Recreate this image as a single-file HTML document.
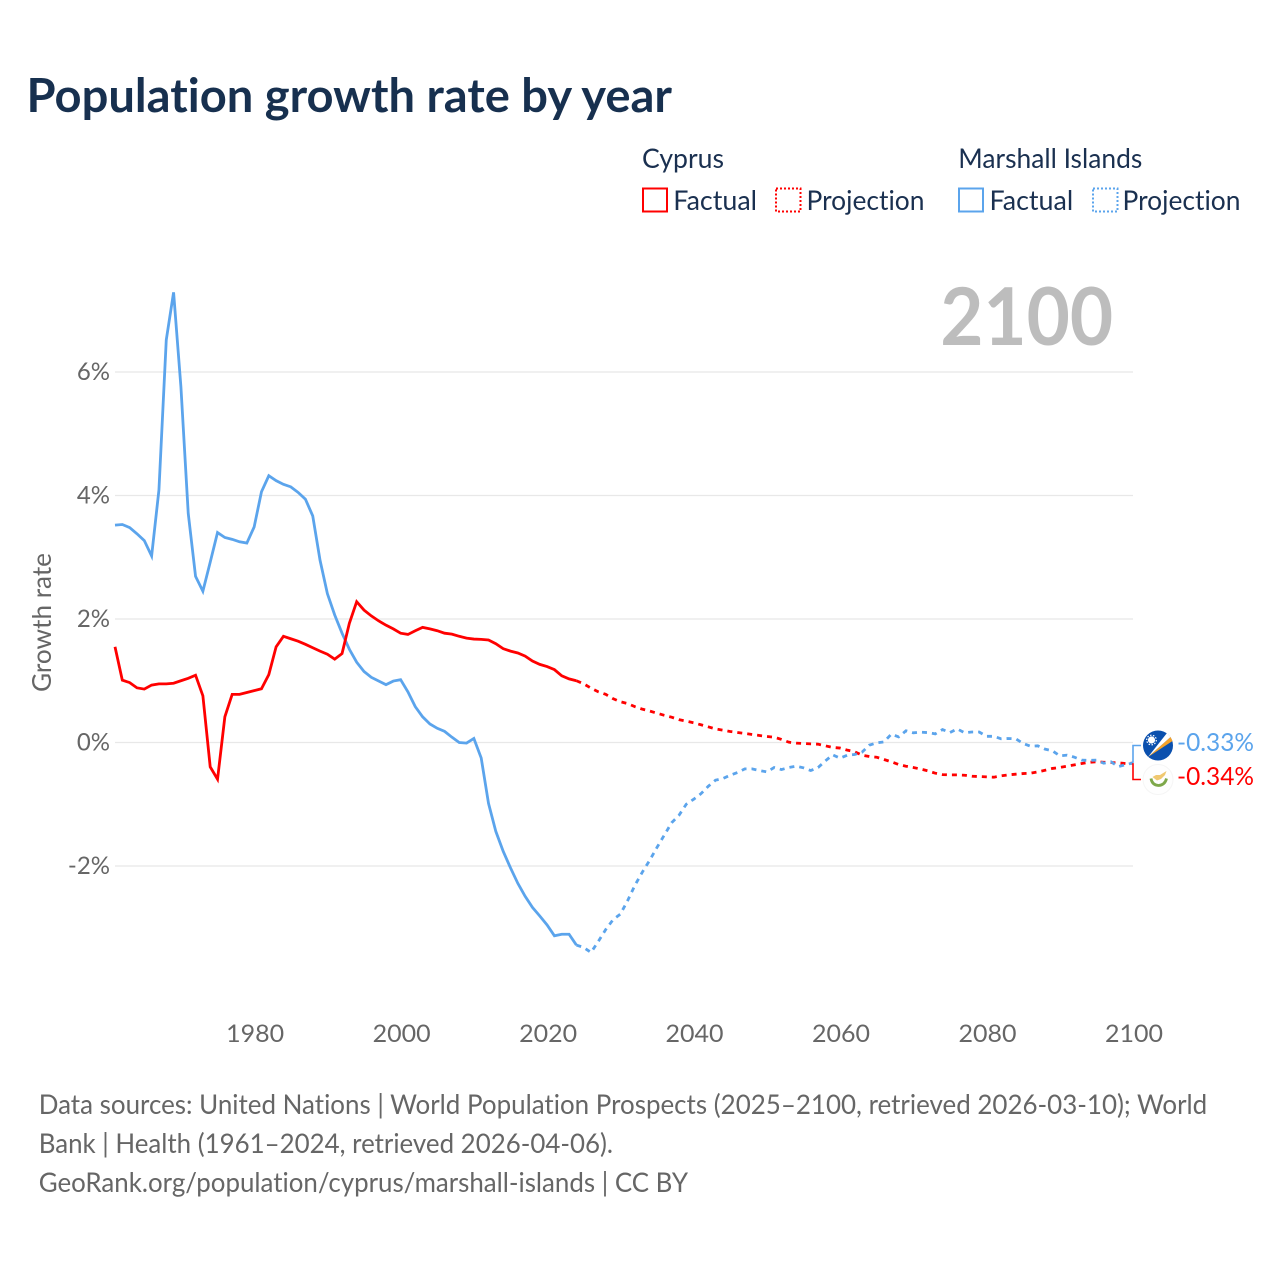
<!DOCTYPE html>
<html lang="en">
<head>
<meta charset="utf-8">
<title>Population growth rate by year</title>
<style>
  html, body { margin: 0; padding: 0; background: #ffffff; }
  #chart { display: block; width: 1280px; height: 1280px; }
  text { font-family: "Lato", "Carlito", "Liberation Sans", sans-serif; font-variant-ligatures: none; }
  .legend-text { font-size: 27px; fill: #1a3050; }
  .tick-text { font-size: 24px; fill: #666666; }
  .foot-text { font-size: 27px; fill: #666666; }
</style>
</head>
<body>
<svg id="chart" xmlns="http://www.w3.org/2000/svg" width="1280" height="1280" viewBox="0 0 1280 1280">
  <rect x="0" y="0" width="1280" height="1280" fill="#ffffff"/>
  <text x="26.5" y="112" font-size="47" font-weight="700" fill="#17304f" textLength="645.5" lengthAdjust="spacingAndGlyphs">Population growth rate by year</text>

  <g>
    <text class="legend-text" x="642" y="168" textLength="82" lengthAdjust="spacingAndGlyphs">Cyprus</text>
    <rect x="643" y="188.5" width="24" height="23" fill="none" stroke="#ff0000" stroke-width="2"/>
    <text class="legend-text" x="673.3" y="210" textLength="83.7" lengthAdjust="spacingAndGlyphs">Factual</text>
    <rect x="776" y="188.5" width="24.500" height="23" fill="none" stroke="#ff0000" stroke-width="2" stroke-dasharray="2 2"/>
    <text class="legend-text" x="806.5" y="210" textLength="118" lengthAdjust="spacingAndGlyphs">Projection</text>
    <text class="legend-text" x="958.3" y="168" textLength="184" lengthAdjust="spacingAndGlyphs">Marshall Islands</text>
    <rect x="959" y="188.5" width="24" height="23" fill="none" stroke="#5ba4ec" stroke-width="2"/>
    <text class="legend-text" x="989.5" y="210" textLength="83.7" lengthAdjust="spacingAndGlyphs">Factual</text>
    <rect x="1093" y="188.5" width="24.500" height="23" fill="none" stroke="#5ba4ec" stroke-width="2" stroke-dasharray="2 2"/>
    <text class="legend-text" x="1122.5" y="210" textLength="118" lengthAdjust="spacingAndGlyphs">Projection</text>
  </g>

  <text x="940.2" y="345" font-size="80" font-weight="700" fill="#bdbdbd" textLength="173" lengthAdjust="spacingAndGlyphs">2100</text>
  <text class="tick-text" style="font-size:26px" transform="translate(51 692) rotate(-90)" textLength="139" lengthAdjust="spacingAndGlyphs">Growth rate</text>

  <g id="grid"></g>
  <g id="y-ticks"></g>
  <g id="x-ticks"></g>
  <g id="series"></g>
  <g id="connectors"></g>

  <g>
    <circle cx="1158" cy="745.500" r="15" fill="#0b50ae"/>
    <polygon points="1148,757 1170.500,737 1172.500,741" fill="#f5a229"/>
    <polygon points="1148,757 1167,733 1170.500,737" fill="#ffffff"/>
    <circle cx="1151.500" cy="740" r="3.600" fill="#ffffff"/>
    <circle cx="1151.500" cy="740" r="4.800" fill="none" stroke="#ffffff" stroke-width="1.200" stroke-dasharray="1.500 1.500"/>
  </g>
  <g>
    <circle cx="1158" cy="779.500" r="15" fill="#fefefe" stroke="#f5f5f5" stroke-width="1"/>
    <polygon points="1152.500,777 1156,775 1160,775 1166.500,771 1165,775 1161,779 1157,780.500" fill="#f0c870"/>
    <path d="M1151 778.500 Q1152 785 1158.500 785.500 Q1165 785 1166.500 778.500" fill="none" stroke="#7ea84a" stroke-width="2.800"/>
  </g>
  <text x="1177" y="751" font-size="25" fill="#5ba4ec" textLength="77" lengthAdjust="spacingAndGlyphs">-0.33%</text>
  <text x="1177" y="785" font-size="25" fill="#ff0000" textLength="77" lengthAdjust="spacingAndGlyphs">-0.34%</text>

  <g>
    <text class="foot-text" x="38.7" y="1114" textLength="1168.5" lengthAdjust="spacingAndGlyphs">Data sources: United Nations | World Population Prospects (2025–2100, retrieved 2026-03-10); World</text>
    <text class="foot-text" x="38.7" y="1153" textLength="574.3" lengthAdjust="spacingAndGlyphs">Bank | Health (1961–2024, retrieved 2026-04-06).</text>
    <text class="foot-text" x="38.7" y="1192" textLength="649.3" lengthAdjust="spacingAndGlyphs">GeoRank.org/population/cyprus/marshall-islands | CC BY</text>
  </g>
</svg>

<script>
const factualStartYear = 1961;
const projectionStartYear = 2024;
const xTickYears = [1980, 2000, 2020, 2040, 2060, 2080, 2100];
const yTickValues = [6, 4, 2, 0, -2];
const yTickLabels = ["6%", "4%", "2%", "0%", "-2%"];

const cyprusFactual = [
  1.55, 1.01, 0.97, 0.885, 0.865, 0.93, 0.95, 0.95, 0.96,
  1.0, 1.04, 1.09, 0.757, -0.395, -0.595, 0.416, 0.78, 0.78, 0.81,
  0.84, 0.87, 1.10, 1.55, 1.72, 1.68, 1.64, 1.59, 1.535, 1.48,
  1.43, 1.35, 1.44, 1.93, 2.28, 2.145, 2.05, 1.97, 1.90, 1.84,
  1.77, 1.75, 1.81, 1.865, 1.84, 1.81, 1.77, 1.755, 1.72, 1.69,
  1.675, 1.67, 1.66, 1.60, 1.52, 1.48, 1.45, 1.40, 1.32, 1.265,
  1.23, 1.18, 1.08, 1.03, 1.0
];
const cyprusProjection = [
  1.0, 0.95, 0.88, 0.82, 0.78, 0.71,
  0.66, 0.63, 0.58, 0.54, 0.51, 0.475, 0.44, 0.41, 0.37, 0.345,
  0.32, 0.287, 0.254, 0.22, 0.20, 0.178, 0.162, 0.146, 0.13, 0.114,
  0.097, 0.086, 0.05, 0.005, -0.01, -0.016, -0.022, -0.027, -0.054, -0.08,
  -0.09, -0.124, -0.15, -0.205, -0.227, -0.238, -0.275, -0.313, -0.357, -0.384,
  -0.405, -0.43, -0.46, -0.497, -0.52, -0.524, -0.524, -0.53, -0.546, -0.551,
  -0.557, -0.562, -0.54, -0.524, -0.513, -0.503, -0.497, -0.476, -0.449, -0.42,
  -0.405, -0.384, -0.362, -0.34, -0.32, -0.313, -0.32, -0.324, -0.33, -0.34,
  -0.335
];
const marshallFactual = [
  3.52, 3.53, 3.48, 3.38, 3.27, 3.02, 4.09, 6.52, 7.29,
  5.76, 3.71, 2.69, 2.45, 2.92, 3.40, 3.32, 3.29, 3.25, 3.23,
  3.49, 4.06, 4.32, 4.24, 4.18, 4.14, 4.05, 3.94, 3.67, 2.95,
  2.41, 2.065, 1.77, 1.51, 1.30, 1.15, 1.055, 0.995, 0.937, 0.995,
  1.017, 0.82, 0.58, 0.416, 0.30, 0.23, 0.18, 0.086, 0.0, -0.01,
  0.065, -0.25, -0.985, -1.44, -1.76, -2.03, -2.28, -2.49, -2.67, -2.81,
  -2.955, -3.13, -3.105, -3.105, -3.28
];
const marshallProjection = [
  -3.28, -3.32, -3.40, -3.22, -3.03, -2.87,
  -2.78, -2.56, -2.31, -2.10, -1.91, -1.70, -1.50, -1.30, -1.18, -1.0,
  -0.92, -0.83, -0.71, -0.61, -0.584, -0.53, -0.486, -0.427, -0.427, -0.454,
  -0.476, -0.405, -0.438, -0.405, -0.384, -0.41, -0.454, -0.405, -0.297, -0.2,
  -0.254, -0.205, -0.195, -0.157, -0.043, -0.005, 0.01, 0.135, 0.09, 0.19,
  0.157, 0.168, 0.16, 0.14, 0.21, 0.16, 0.22, 0.157, 0.17, 0.17,
  0.10, 0.10, 0.06, 0.065, 0.06, -0.016, -0.06, -0.054, -0.108, -0.135,
  -0.216, -0.205, -0.238, -0.286, -0.29, -0.286, -0.335, -0.313, -0.39, -0.36,
  -0.33
];

const SVG_NS = "http://www.w3.org/2000/svg";
const plotLeft = 115;
const plotRight = 1133;
const axisMinYear = 1961;
const axisMaxYear = 2100;
const zeroY = 742.5;
const pxPerPercent = 61.75;

function xScale(year) {
  return plotLeft + (year - axisMinYear) * (plotRight - plotLeft) / (axisMaxYear - axisMinYear);
}
function yScale(value) {
  return zeroY - value * pxPerPercent;
}
function linePath(startYear, values) {
  return values.map(function (v, i) {
    return (i === 0 ? "M" : "L") + xScale(startYear + i).toFixed(2) + " " + yScale(v).toFixed(2);
  }).join(" ");
}

const gridGroup = document.getElementById("grid");
const yTickGroup = document.getElementById("y-ticks");
yTickValues.forEach(function (v, i) {
  const gridLine = document.createElementNS(SVG_NS, "line");
  
  
  gridLine.setAttribute("x1", plotLeft);
  gridLine.setAttribute("x2", plotRight);
  gridLine.setAttribute("y1", yScale(v));
  gridLine.setAttribute("y2", yScale(v));
  gridLine.setAttribute("stroke", "#e8e8e8");
  gridLine.setAttribute("stroke-width", "1.3");
  gridGroup.appendChild(gridLine);

  const yLabel = document.createElementNS(SVG_NS, "text");
  
  
  yLabel.setAttribute("class", "tick-text");
  yLabel.setAttribute("x", 110);
  yLabel.setAttribute("y", yScale(v) + 8);
  yLabel.setAttribute("text-anchor", "end");
  yLabel.textContent = yTickLabels[i];
  yTickGroup.appendChild(yLabel);
});

const xTickGroup = document.getElementById("x-ticks");
xTickYears.forEach(function (year) {
  const xLabel = document.createElementNS(SVG_NS, "text");
  
  
  xLabel.setAttribute("class", "tick-text");
  xLabel.setAttribute("x", xScale(year) + 1);
  xLabel.setAttribute("y", 1042);
  xLabel.setAttribute("text-anchor", "middle");
  xLabel.setAttribute("textLength", "58");
  xLabel.setAttribute("lengthAdjust", "spacingAndGlyphs");
  xLabel.textContent = String(year);
  xTickGroup.appendChild(xLabel);
});

const seriesGroup = document.getElementById("series");
const marshallFactualLine = document.createElementNS(SVG_NS, "path");


marshallFactualLine.setAttribute("d", linePath(factualStartYear, marshallFactual));
marshallFactualLine.setAttribute("fill", "none");
marshallFactualLine.setAttribute("stroke", "#5ba4ec");
marshallFactualLine.setAttribute("stroke-width", "2.8");
seriesGroup.appendChild(marshallFactualLine);

const cyprusFactualLine = document.createElementNS(SVG_NS, "path");


cyprusFactualLine.setAttribute("d", linePath(factualStartYear, cyprusFactual));
cyprusFactualLine.setAttribute("fill", "none");
cyprusFactualLine.setAttribute("stroke", "#ff0000");
cyprusFactualLine.setAttribute("stroke-width", "2.8");
seriesGroup.appendChild(cyprusFactualLine);

const cyprusProjectionLine = document.createElementNS(SVG_NS, "path");


cyprusProjectionLine.setAttribute("d", linePath(projectionStartYear, cyprusProjection));
cyprusProjectionLine.setAttribute("fill", "none");
cyprusProjectionLine.setAttribute("stroke", "#ff0000");
cyprusProjectionLine.setAttribute("stroke-width", "2.8");
cyprusProjectionLine.setAttribute("stroke-dasharray", "5 5");
seriesGroup.appendChild(cyprusProjectionLine);

const marshallProjectionLine = document.createElementNS(SVG_NS, "path");


marshallProjectionLine.setAttribute("d", linePath(projectionStartYear, marshallProjection));
marshallProjectionLine.setAttribute("fill", "none");
marshallProjectionLine.setAttribute("stroke", "#5ba4ec");
marshallProjectionLine.setAttribute("stroke-width", "2.8");
marshallProjectionLine.setAttribute("stroke-dasharray", "5 5");
seriesGroup.appendChild(marshallProjectionLine);

const connectorGroup = document.getElementById("connectors");
const marshallEndY = yScale(marshallProjection[marshallProjection.length - 1]);
const cyprusEndY = yScale(cyprusProjection[cyprusProjection.length - 1]);

const marshallConnector = document.createElementNS(SVG_NS, "path");


marshallConnector.setAttribute("d", "M" + plotRight + " " + marshallEndY + " V745.5 H1141");
marshallConnector.setAttribute("fill", "none");
marshallConnector.setAttribute("stroke", "#5ba4ec");
marshallConnector.setAttribute("stroke-width", "1.6");
connectorGroup.appendChild(marshallConnector);

const cyprusConnector = document.createElementNS(SVG_NS, "path");


cyprusConnector.setAttribute("d", "M" + plotRight + " " + cyprusEndY + " V779.5 H1141");
cyprusConnector.setAttribute("fill", "none");
cyprusConnector.setAttribute("stroke", "#ff0000");
cyprusConnector.setAttribute("stroke-width", "1.6");
connectorGroup.appendChild(cyprusConnector);
</script>
</body>
</html>
